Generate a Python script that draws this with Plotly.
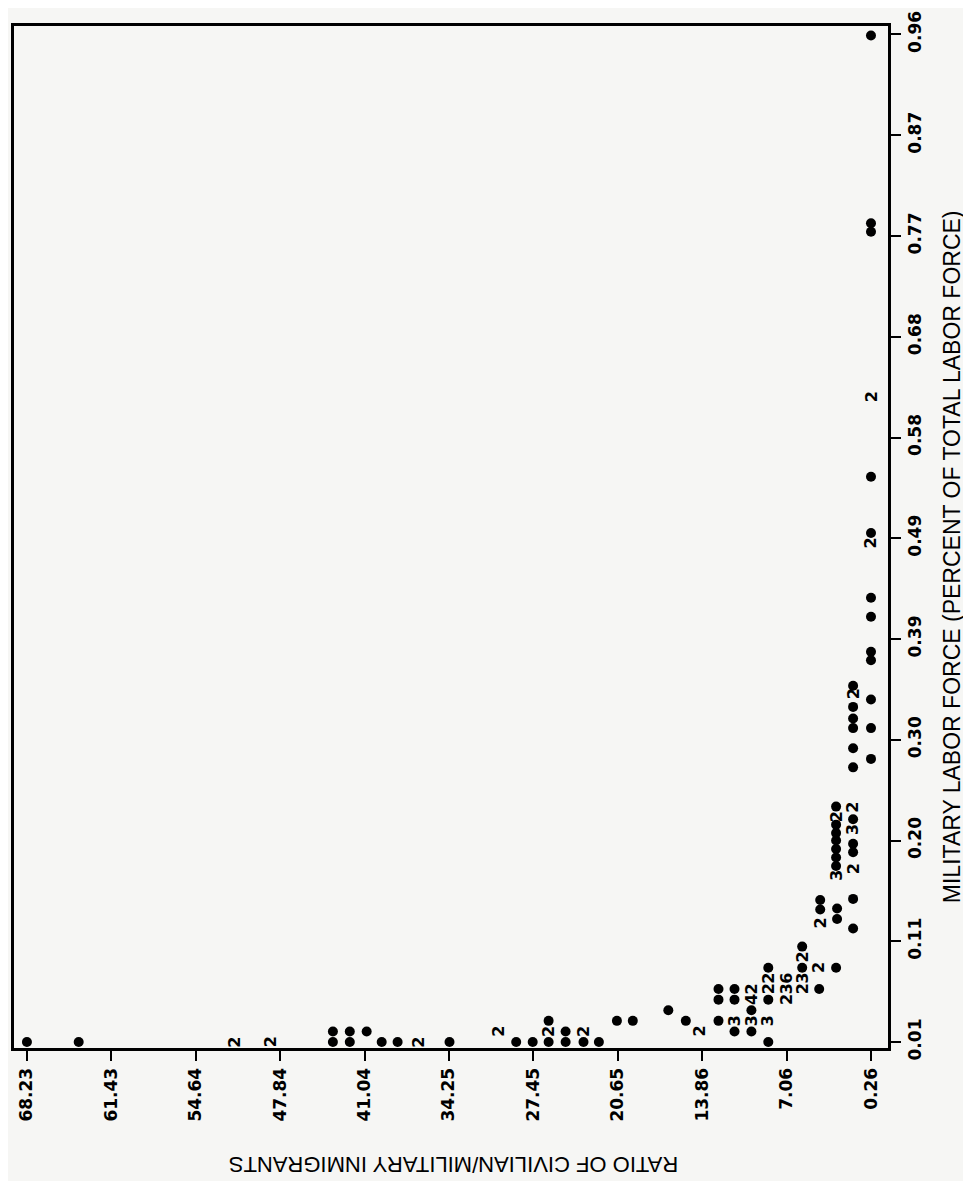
import numpy as np
import plotly.graph_objects as go

# ---- axis ticks (scale runs from data min to max in 10 steps) ----
x_min, x_max = 0.26, 68.23
y_min, y_max = 0.01, 0.96
x_tick_text = ["0.26", "7.06", "13.86", "20.65", "27.45", "34.25", "41.04",
               "47.84", "54.64", "61.43", "68.23"]
y_tick_text = ["0.01", "0.11", "0.20", "0.30", "0.39", "0.49", "0.58",
               "0.68", "0.77", "0.87", "0.96"]
x_tickvals = np.linspace(x_min, x_max, 11)
y_tickvals = np.linspace(y_min, y_max, 11)

# ---- single observations (plotted as dots) ----
dot_x = [68.23, 64.06,
         43.59, 43.59, 42.23, 42.23, 40.87, 39.66, 38.38, 34.20,
         28.83, 27.50, 26.22, 26.22, 24.85, 24.85, 23.41, 22.17,
         20.72, 19.44, 16.58, 15.17,
         12.54, 12.54, 12.54,
         11.25, 11.25, 11.25,
         9.89, 9.89,
         8.53, 8.53, 8.53,
         5.80, 5.80,
         4.43, 3.07,
         4.35, 4.35, 2.99, 2.99, 1.70, 1.70,
         3.07, 3.07, 3.07, 3.07, 3.07, 3.07, 3.07,
         1.70, 1.70, 1.70,
         1.70, 1.70, 1.70, 1.70, 1.70, 1.70,
         0.26, 0.26, 0.26, 0.26, 0.26, 0.26, 0.26, 0.26, 0.26, 0.26, 0.26, 0.26]
dot_y = [0.01, 0.01,
         0.01, 0.02, 0.01, 0.02, 0.02, 0.01, 0.01, 0.01,
         0.01, 0.01, 0.03, 0.01, 0.02, 0.01, 0.01, 0.01,
         0.03, 0.03, 0.04, 0.03,
         0.06, 0.05, 0.03,
         0.06, 0.05, 0.02,
         0.04, 0.02,
         0.08, 0.05, 0.01,
         0.08, 0.10,
         0.06, 0.08,
         0.144, 0.135, 0.136, 0.126, 0.145, 0.117,
         0.176, 0.184, 0.192, 0.200, 0.207, 0.215, 0.232,
         0.189, 0.197, 0.220,
         0.346, 0.326, 0.315, 0.306, 0.287, 0.269,
         0.277, 0.306, 0.333, 0.370, 0.378, 0.411, 0.429, 0.490, 0.543,
         0.774, 0.782, 0.959]

# ---- coincident observations (plotted as their count) ----
lab_x = [51.58, 48.65, 36.77, 30.27, 26.22, 23.41, 14.10,
         11.25, 9.89, 9.89, 9.89, 8.53, 8.53, 8.53,
         7.08, 7.08, 7.08, 5.80, 5.80, 5.80, 4.43,
         4.35, 3.07, 3.07, 1.70, 1.70, 1.70, 1.70,
         0.26, 0.26]
lab_y = [0.01, 0.01, 0.01, 0.02, 0.02, 0.02, 0.02,
         0.03, 0.06, 0.05, 0.03, 0.07, 0.06, 0.03,
         0.05, 0.06, 0.07, 0.06, 0.07, 0.09, 0.08,
         0.122, 0.167, 0.222, 0.173, 0.210, 0.231, 0.338,
         0.481, 0.619]
lab_text = ["2", "2", "2", "2", "2", "2", "2",
            "3", "2", "4", "3", "2", "2", "3",
            "2", "3", "6", "2", "3", "2", "2",
            "2", "3", "2", "2", "3", "2", "2",
            "2", "2"]

x_title = "RATIO OF CIVILIAN/MILITARY INMIGRANTS"
y_title = "MILITARY LABOR FORCE (PERCENT OF TOTAL LABOR FORCE)"

bg = "#f6f6f4"
fig = go.Figure()
fig.add_trace(go.Scatter(x=dot_x, y=dot_y, mode="markers",
                         marker=dict(size=10, color="black"),
                         hoverinfo="skip", showlegend=False))

annots = []
for xv, yv, t in zip(lab_x, lab_y, lab_text):
    annots.append(dict(x=xv, y=yv, xref="x", yref="y", text=t, showarrow=False,
                       textangle=-90, xanchor="center", yanchor="middle",
                       font=dict(family="DejaVu Sans", size=16, color="black",
                                 weight="bold")))
annots.append(dict(x=0.503, y=-0.1135, xref="paper", yref="paper", text=x_title,
                   showarrow=False, textangle=180, xanchor="center", yanchor="middle",
                   font=dict(family="Liberation Sans", size=22, color="black")))
annots.append(dict(x=1.0741, y=0.481, xref="paper", yref="paper", text=y_title,
                   showarrow=False, textangle=-90, xanchor="center", yanchor="middle",
                   font=dict(family="Liberation Sans", size=23, color="black")))

axis_common = dict(ticks="outside", ticklen=10, tickwidth=2, tickcolor="black",
                   showline=True, linewidth=3, linecolor="black", mirror=True,
                   showgrid=False, zeroline=False, tickangle=-90,
                   ticklabeloverflow="allow",
                   tickfont=dict(family="DejaVu Sans", size=17, color="black",
                                 weight="bold"))

fig.update_layout(
    width=963, height=1173,
    margin=dict(l=3, r=83, t=5, b=133),
    paper_bgcolor=bg, plot_bgcolor=bg,
    xaxis=dict(range=[69.27, -1.11], tickvals=x_tickvals, ticktext=x_tick_text,
               **axis_common),
    yaxis=dict(range=[0.0044, 0.968], tickvals=y_tickvals, ticktext=y_tick_text,
               side="right", **axis_common),
    annotations=annots,
    showlegend=False,
)
fig.write_html("out.html")
